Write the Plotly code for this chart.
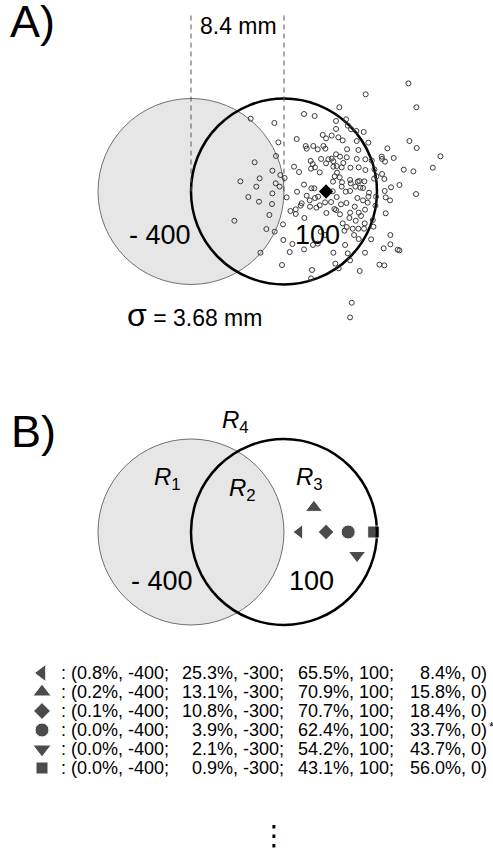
import plotly.graph_objects as go

FONT = "Liberation Sans, Arial, sans-serif"

# ---------------- data ----------------
# Panel A: simulated hit end-points (mm), origin = centre of the penalty circle
hit_x = [19.64, 15.78, 20.36, 13.40, 10.21, 11.17, 5.39, 7.53, 13.10, 14.01,
         14.16, 14.46, 14.94, 15.60, 13.10, 11.90, 12.20, 12.71, 13.31, 9.55,
         7.89, 14.97, 16.02, 19.73, 20.39, 10.36, 11.05, 10.45, 11.45, 11.96,
         12.14, 14.10, 15.12, 17.74, 13.10, 13.46, 14.07, 12.71, 12.41, 14.97,
         15.75, 16.33, 17.23, 17.26, 18.31, 17.53, 7.68, 5.75, 10.81, 10.99,
         11.75, 12.20, 12.86, 13.16, 10.84, 11.20, 9.31, 9.76, 11.63, 13.61,
         14.40, 15.15, 15.75, 16.57, 22.53, 21.84, 19.22, 20.09, 7.35, 8.07,
         8.46, 6.20, 4.46, 5.90, 7.65, 8.01, 10.21, 10.87, 11.14, 12.98,
         13.19, 13.43, 13.64, 14.43, 15.06, 15.21, 15.66, 16.54, 16.75, 17.26,
         17.47, 18.07, 18.83, 17.50, 20.33, 5.18, 6.14, 7.35, 7.32, 8.64,
         9.58, 10.45, 11.48, 12.80, 13.16, 13.98, 14.85, 15.30, 15.54, 16.08,
         16.02, 16.72, 17.59, 17.98, 15.03, 15.54, 15.96, 14.79, 13.55, 14.04,
         12.65, 12.11, 11.63, 11.33, 10.72, 10.00, 9.91, 9.46, 8.98, 9.46,
         10.24, 10.75, 12.23, 12.95, 13.10, 13.46, 14.37, 15.15, 15.72, 15.36,
         14.31, 14.88, 15.69, 16.42, 16.66, 17.59, 7.08, 3.92, 8.31, 6.81,
         7.56, 8.34, 9.16, 10.21, 8.92, 11.45, 11.02, 13.70, 14.07, 13.86,
         14.61, 15.12, 15.63, 16.48, 14.73, 15.15, 16.27, 18.01, 17.41, 18.01,
         18.67, 18.83, 12.86, 14.16, 15.72, 14.37, 13.04, 13.34, 17.02, 17.47,
         15.24, 8.22, 10.93, 10.84, 6.27, 14.52, 14.37, 13.61, 14.37, 11.20,
         12.11, 11.72, 13.92, 12.83, 14.37, 13.70, 13.76, 12.86]
hit_y = [9.77, 8.78, 7.61, 7.61, 7.00, 6.82, 6.58, 6.19, 6.37, 6.52,
         5.95, 5.62, 5.47, 5.38, 5.65, 5.11, 4.80, 5.05, 4.89, 4.74,
         4.44, 4.56, 4.41, 4.56, 3.93, 4.11, 4.11, 3.87, 3.81, 4.11,
         3.87, 3.81, 3.75, 3.90, 3.36, 3.15, 3.09, 2.97, 2.91, 2.94,
         2.91, 2.79, 3.15, 2.94, 3.03, 2.70, 3.21, 2.64, 2.76, 2.48,
         2.94, 2.55, 2.24, 2.30, 2.06, 2.18, 2.24, 1.76, 1.73, 2.18,
         2.15, 2.18, 1.94, 2.00, 3.18, 2.15, 1.97, 1.82, 1.88, 1.49,
         1.22, 1.19, 0.92, 0.44, 0.74, 0.44, 0.62, 0.29, 0.29, 1.37,
         1.70, 1.28, 0.83, 0.74, 0.89, 0.95, 0.92, 1.16, 1.37, 1.58,
         1.13, 0.38, 0.59, 0.05, -0.23, -0.50, -0.92, -0.17, -1.13, -0.53,
         -0.02, -0.38, -0.47, 0.02, -0.50, -0.02, 0.44, 0.35, 0.32, -0.11,
         -0.47, -0.47, -0.53, -0.80, -0.59, -0.80, -1.01, -1.37, -1.16, -1.04,
         -0.95, -0.98, -1.25, -1.46, -0.80, -1.07, -1.28, -1.61, -1.76, -2.03,
         -2.39, -1.37, -1.94, -1.58, -1.67, -2.06, -1.91, -1.91, -1.64, -2.21,
         -2.39, -2.64, -2.88, -2.58, -1.28, -1.97, -2.12, -2.64, -2.97, -3.39,
         -3.63, -4.38, -4.74, -5.23, -5.47, -4.71, -4.83, -2.88, -3.21, -3.54,
         -3.36, -3.36, -3.36, -3.18, -3.93, -4.29, -4.32, -3.93, -5.14, -4.77,
         -5.26, -5.32, -5.53, -5.59, -5.53, -6.22, -6.52, -6.94, -6.61, -6.67,
         -7.18, -6.64, -7.09, -7.85, -5.53, -10.05, -11.37, 0.44, 0.05, -0.59,
         -3.93, -3.63, -4.83, 0.89, 1.04, 4.62, 2.58, 2.73]
mean_hit_x = [12.2]
mean_hit_y = [0.0]

circle_centres_x = [0.0, 8.4]      # penalty circle, reward circle (mm)
circle_radius = 8.4                # mm
circle_values = ["- 400", "100"]
centre_distance_label = "8.4 mm"
sigma_mm = 3.68

# Panel B: example aim points (mm)
example_symbols = ["triangle-left", "triangle-up", "diamond", "circle", "triangle-down", "square"]
example_x = [9.8, 11.1, 12.2, 14.2, 15.0, 16.5]
example_y = [0.0, 2.2, 0.0, 0.0, -2.1, 0.0]
region_subscripts = ["1", "2", "3", "4"]

# Table: % of hits falling in each region, with that region's payoff
pct_R1 = [0.8, 0.2, 0.1, 0.0, 0.0, 0.0]
pct_R2 = [25.3, 13.1, 10.8, 3.9, 2.1, 0.9]
pct_R3 = [65.5, 70.9, 70.7, 62.4, 54.2, 43.1]
pct_R4 = [8.4, 15.8, 18.4, 33.7, 43.7, 56.0]
region_payoffs = [-400, -300, 100, 0]
optimal_row = 3

# ---------------- layout constants ----------------
W, H = 493, 856
PXMM = 11.07
A_CX, A_CY = 191, 191.5          # px position of penalty centre, panel A
B_CY = 532                       # panel B centre (px)
SPLIT = 400                      # px boundary between panels
xr = [-A_CX / PXMM, (W - A_CX) / PXMM]
yA = [-(SPLIT - A_CY) / PXMM, A_CY / PXMM]
yB = [-(H - B_CY) / PXMM, (B_CY - SPLIT) / PXMM]
ROW0, ROWSTEP = 673, 19
t_top = ROW0 - 0.5 * ROWSTEP
t_bot = ROW0 + 5.5 * ROWSTEP

def mmx(px):
    return (px - A_CX) / PXMM

fig = go.Figure()

# Panel A hits
fig.add_trace(go.Scatter(
    x=hit_x, y=hit_y, mode="markers", xaxis="x", yaxis="y",
    marker=dict(symbol="circle-open", size=5, color="#3a3a3a", line=dict(width=1)),
    hoverinfo="skip", showlegend=False))
fig.add_trace(go.Scatter(
    x=mean_hit_x, y=mean_hit_y, mode="markers", xaxis="x", yaxis="y",
    marker=dict(symbol="diamond", size=11, color="black"),
    hoverinfo="skip", showlegend=False))

# Panel B example aim points
fig.add_trace(go.Scatter(
    x=example_x, y=example_y, mode="markers", xaxis="x2", yaxis="y2",
    marker=dict(symbol=example_symbols, size=[13, 15, 12, 14, 15, 12], color="black"),
    hoverinfo="skip", showlegend=False))

# Table symbols
rows = list(range(len(pct_R1)))
fig.add_trace(go.Scatter(
    x=[42] * len(rows), y=rows, mode="markers", xaxis="x3", yaxis="y3",
    marker=dict(symbol=example_symbols, size=[15, 16, 13, 14, 16, 12], color="black"),
    hoverinfo="skip", showlegend=False, cliponaxis=False))

shapes = []
for xa, ya in (("x", "y"), ("x2", "y2")):
    cx = circle_centres_x[0]
    shapes.append(dict(type="circle", xref=xa, yref=ya, layer="below",
                       x0=cx - circle_radius, x1=cx + circle_radius,
                       y0=-circle_radius, y1=circle_radius,
                       fillcolor="#e6e6e6", line=dict(color="#707070", width=1)))
    cx = circle_centres_x[1]
    shapes.append(dict(type="circle", xref=xa, yref=ya, layer="below",
                       x0=cx - circle_radius, x1=cx + circle_radius,
                       y0=-circle_radius, y1=circle_radius,
                       fillcolor="rgba(0,0,0,0)", line=dict(color="black", width=2.5)))
for cx in circle_centres_x:
    shapes.append(dict(type="line", xref="x", yref="y", layer="below",
                       x0=cx, x1=cx, y0=0, y1=(A_CY - 15) / PXMM,
                       line=dict(color="#555555", width=1, dash="5px,4px")))

ann = []
def txt(x, y, s, size, xref="paper", yref="paper", xanchor="center", yanchor="middle",
        family=FONT):
    ann.append(dict(x=x, y=y, xref=xref, yref=yref, text=s, showarrow=False,
                    xanchor=xanchor, yanchor=yanchor,
                    font=dict(family=family, size=size, color="black")))

txt(8 / W, 1 - 21 / H, "A)", 45, xanchor="left")
txt(9 / W, 1 - 431.5 / H, "B)", 45, xanchor="left")

# panel A text
txt(sum(circle_centres_x) / 2 + 0.1, (A_CY - 25.5) / PXMM, centre_distance_label, 23, "x", "y")
txt(mmx(160), -(235 - A_CY) / PXMM, circle_values[0], 27, "x", "y")
txt(mmx(317.5), -(235 - A_CY) / PXMM, circle_values[1], 27, "x", "y")
txt(mmx(194), -(315 - A_CY) / PXMM,
    "<span style='font-size:32px'>σ</span> = %.2f mm" % sigma_mm, 23, "x", "y")

# panel B text
rpos = [(167, 478), (242.5, 489.5), (309, 478), (235.5, 421.5)]
for sub, (px, py) in zip(region_subscripts, rpos):
    txt(mmx(px), (B_CY - py) / PXMM, "<i>R</i><sub>%s</sub>" % sub, 24, "x2", "y2")
txt(mmx(162), -(580.5 - B_CY) / PXMM, circle_values[0], 27, "x2", "y2")
txt(mmx(311), -(580.5 - B_CY) / PXMM, circle_values[1], 27, "x2", "y2")

# table
for i in rows:
    txt(59, i, ": (%.1f%%, %d;" % (pct_R1[i], region_payoffs[0]), 18, "x3", "y3", xanchor="left")
    txt(286, i, "%.1f%%, %d;" % (pct_R2[i], region_payoffs[1]), 18, "x3", "y3", xanchor="right")
    txt(396, i, "%.1f%%, %d;" % (pct_R3[i], region_payoffs[2]), 18, "x3", "y3", xanchor="right")
    txt(489, i, "%.1f%%, %d)" % (pct_R4[i], region_payoffs[3]), 18, "x3", "y3", xanchor="right")
txt(487, optimal_row - 0.2, "*", 13, "x3", "y3", xanchor="left")
# vertical ellipsis below the table (paper coordinates so it is not hidden)
txt(274 / W, 0.002, "⋮", 28, yanchor="bottom", family="DejaVu Sans")

hidden = dict(visible=False, showgrid=False, zeroline=False, fixedrange=True)
fig.update_layout(
    width=W, height=H, margin=dict(l=0, r=0, t=0, b=0),
    paper_bgcolor="white", plot_bgcolor="white",
    xaxis=dict(domain=[0, 1], range=xr, anchor="y", **hidden),
    yaxis=dict(domain=[1 - SPLIT / H, 1], range=yA, anchor="x", **hidden),
    xaxis2=dict(domain=[0, 1], range=xr, anchor="y2", **hidden),
    yaxis2=dict(domain=[0, 1 - SPLIT / H], range=yB, anchor="x2", **hidden),
    xaxis3=dict(domain=[0, 1], range=[0, W], anchor="y3", **hidden),
    yaxis3=dict(domain=[1 - t_bot / H, 1 - t_top / H], range=[5.5, -0.5], anchor="x3", **hidden),
    shapes=shapes, annotations=ann, showlegend=False,
    font=dict(family=FONT),
)
fig.write_html("out.html", config={"displayModeBar": False},
               post_script="document.body.style.margin='0';document.body.style.overflow='hidden';")
